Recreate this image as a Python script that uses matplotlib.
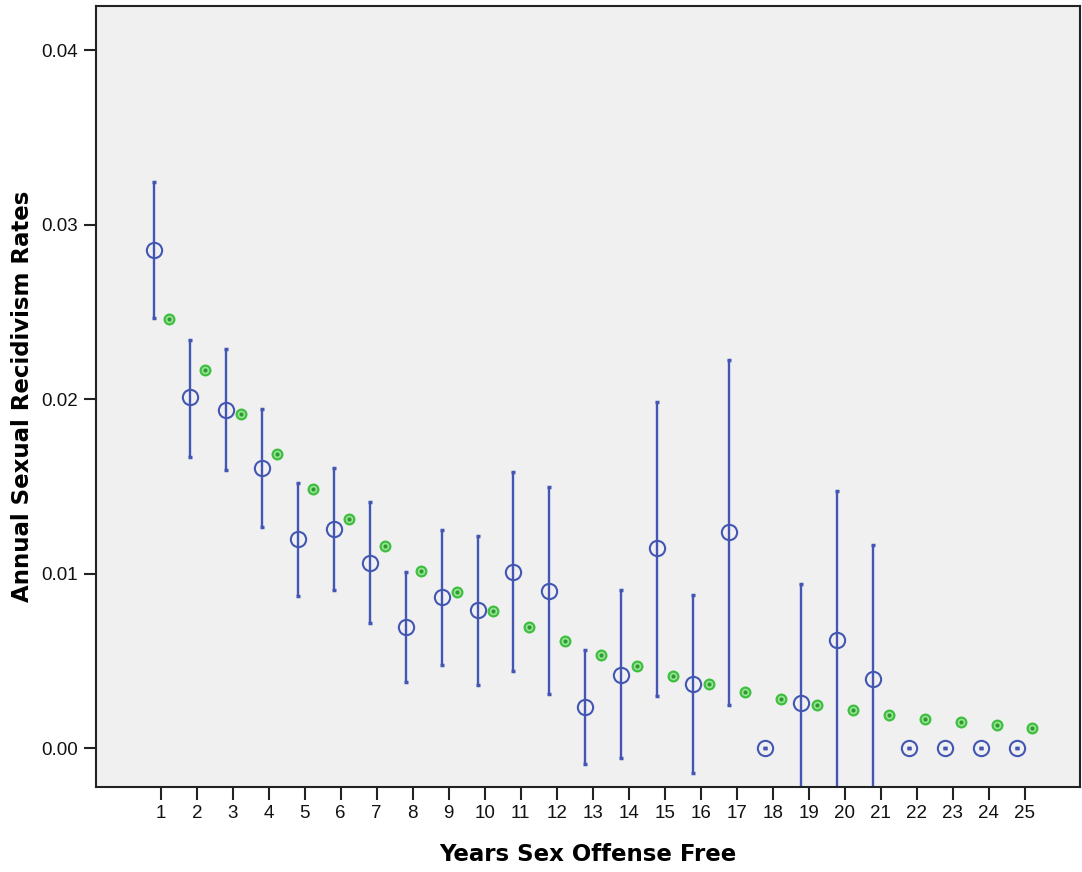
import matplotlib
matplotlib.use("Agg")
import matplotlib.pyplot as plt
import numpy as np

# observed annual rates with 95% CI, and model-predicted rates
years = list(range(1, 26))
observed = [0.02856, 0.0201, 0.01935, 0.01608, 0.01196, 0.01254, 0.01059, 0.00693,
            0.00864, 0.0079, 0.01007, 0.00899, 0.00235, 0.00418, 0.01145, 0.00366,
            0.01236, 0.0, 0.00258, 0.00618, 0.00395, 0.0, 0.0, 0.0, 0.0]
ci_upper = [0.03246, 0.02341, 0.0229, 0.01946, 0.01517, 0.01608, 0.01408, 0.01007,
            0.01248, 0.01213, 0.0158, 0.01494, 0.00561, 0.00904, 0.01986, 0.00876,
            0.02227, 0.0, 0.00939, 0.01471, 0.01162, 0.0, 0.0, 0.0, 0.0]
ci_lower = [0.02467, 0.01666, 0.01591, 0.01265, 0.0087, 0.00904, 0.00716, 0.00378,
            0.00475, 0.00361, 0.00441, 0.00309, -0.00092, -0.00057, 0.00298, -0.00143,
            0.00246, 0.0, -0.00423, -0.00235, -0.00372, 0.0, 0.0, 0.0, 0.0]
predicted = [0.02461, 0.02169, 0.01912, 0.01683, 0.01483, 0.01311, 0.01156, 0.01013,
             0.00893, 0.00784, 0.00693, 0.00612, 0.00532, 0.00469, 0.00412, 0.00366,
             0.00321, 0.0028, 0.00246, 0.00218, 0.00189, 0.00166, 0.00149, 0.00132, 0.00114]

BLUE = "#4356b3"
GREEN = "#3fbf3f"

x = np.array(years, dtype=float)
obs = np.array(observed)
yerr = np.vstack([obs - np.array(ci_lower), np.array(ci_upper) - obs])

fig = plt.figure(figsize=(10.82, 8.72), dpi=100)
ax = fig.add_axes([96 / 1082, 85 / 872, 984 / 1082, 781 / 872])
ax.set_facecolor("#f0f0f0")

ax.errorbar(x - 0.2, obs, yerr=yerr, fmt="none", ecolor=BLUE, elinewidth=1.7,
            capsize=1.5, capthick=2.5, zorder=2)
ax.plot(x - 0.2, obs, linestyle="none", marker="o", markersize=11,
        markerfacecolor="none", markeredgecolor=BLUE, markeredgewidth=1.5, zorder=3)
ax.plot(x + 0.22, predicted, linestyle="none", marker="o", markersize=7,
        markerfacecolor="#9be49b", markeredgecolor=GREEN, markeredgewidth=1.6, zorder=3)
ax.plot(x + 0.22, predicted, linestyle="none", marker="o", markersize=2,
        color="#2e9a2e", zorder=4)

ax.set_xlim(-0.8, 26.54)
ax.set_ylim(-0.00223, 0.04253)
ax.set_xticks(years)
ax.set_yticks([0.0, 0.01, 0.02, 0.03, 0.04])
ax.set_yticklabels(["0.00", "0.01", "0.02", "0.03", "0.04"])

for s in ax.spines.values():
    s.set_linewidth(1.5)
    s.set_color("#222222")
ax.tick_params(direction="out", length=9, width=1.5, color="#222222", pad=4)
for lab in ax.get_xticklabels() + ax.get_yticklabels():
    lab.set_fontfamily("Liberation Sans")
    lab.set_fontsize(13.5)
    lab.set_color("#111111")

ax.set_xlabel("Years Sex Offense Free", fontsize=16.5, fontweight="bold",
              family="DejaVu Sans", labelpad=15)
ax.set_ylabel("Annual Sexual Recidivism Rates", fontsize=16.5, fontweight="bold",
              family="DejaVu Sans", labelpad=5)

fig.savefig("out.png", dpi=100, facecolor="white")
